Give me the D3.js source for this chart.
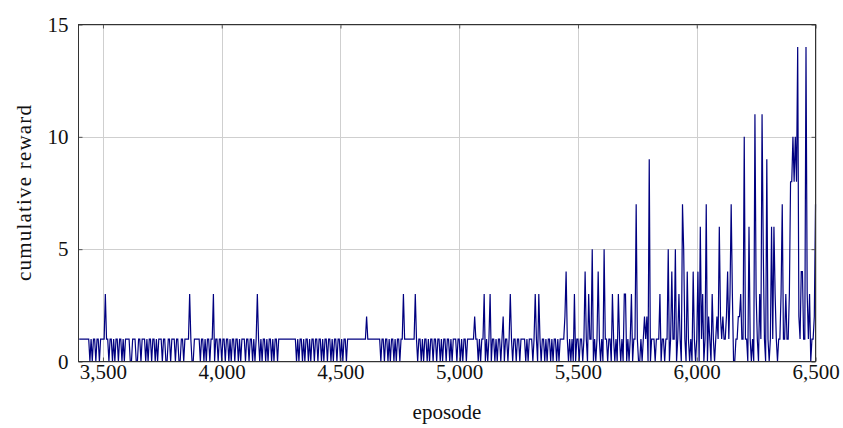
<!DOCTYPE html>
<html>
<head>
<meta charset="utf-8">
<script src="https://cdn.jsdelivr.net/npm/d3@7/dist/d3.min.js"></script>
<style>
  html, body { margin: 0; padding: 0; background: #fff; }
  svg { display: block; }
</style>
</head>
<body>
<svg id="chart" width="843" height="428"></svg>
<script>
// ---- data (one value every 5 episodes, 3400 .. 6500) ----
const episodeStart = 3400;
const episodeStep = 5;
const rewards = [
  /*3400*/ 1,1,1,1,1,1,1,1,1,0,1,0,1,1,0,1,1,0,1,1,
  /*3500*/ 1,1,3,1,1,0,1,1,0,1,0,1,1,0,1,1,0,1,0,1,
  /*3600*/ 1,1,1,0,0,1,1,1,0,0,1,1,0,1,1,1,0,1,0,1,
  /*3700*/ 1,0,1,1,0,1,0,1,1,1,0,1,1,0,0,1,1,0,1,1,
  /*3800*/ 1,0,1,1,0,0,1,1,0,1,1,1,1,3,1,0,0,1,1,1,
  /*3900*/ 1,1,0,1,1,0,1,0,1,1,0,1,1,3,0,1,1,0,1,1,
  /*4000*/ 0,1,1,0,1,1,0,1,0,1,1,0,1,1,0,1,0,1,1,1,
  /*4100*/ 0,1,1,0,1,1,0,1,0,1,3,1,0,1,0,1,1,0,1,0,
  /*4200*/ 1,1,0,1,0,1,1,0,1,1,1,1,1,1,1,1,1,1,1,1,
  /*4300*/ 1,1,1,0,1,0,1,1,0,1,0,1,1,0,1,0,1,1,0,1,
  /*4400*/ 1,0,1,1,0,1,0,1,1,0,1,1,0,1,0,1,1,0,1,1,
  /*4500*/ 0,1,0,1,1,0,1,1,1,1,1,1,1,1,1,1,1,1,1,1,
  /*4600*/ 1,1,2,1,1,1,1,1,1,1,1,1,1,1,0,1,1,0,1,1,
  /*4700*/ 0,1,0,1,1,0,1,0,1,1,0,1,1,3,1,1,1,1,1,1,
  /*4800*/ 1,1,1,3,1,0,1,1,0,1,0,1,1,0,1,0,1,1,0,1,
  /*4900*/ 1,0,1,1,0,1,0,1,1,0,1,1,0,1,0,1,1,1,0,1,
  /*5000*/ 1,0,1,0,1,1,0,1,1,1,1,1,1,2,1,1,0,1,0,1,
  /*5100*/ 1,3,0,1,0,1,3,0,1,1,0,1,0,1,1,0,1,2,0,1,
  /*5200*/ 1,0,1,3,1,0,1,1,0,1,1,0,1,1,1,1,0,1,0,1,
  /*5300*/ 1,1,0,1,3,1,0,3,1,0,1,1,0,1,0,1,1,0,1,0,
  /*5400*/ 1,1,0,1,0,1,1,1,1,2,4,1,0,1,0,1,0,3,0,1,
  /*5500*/ 1,0,1,1,0,1,4,1,0,3,1,1,5,0,1,0,1,4,1,0,
  /*5600*/ 1,0,5,1,1,0,1,1,0,3,1,0,1,0,3,1,0,1,0,3,
  /*5700*/ 3,0,1,0,1,3,0,1,1,7,1,0,0,1,0,1,2,1,2,0,
  /*5800*/ 9,0,1,1,1,0,1,1,1,3,0,1,1,0,1,1,5,0,1,4,
  /*5900*/ 1,1,5,0,1,3,1,0,7,5,1,0,4,1,0,1,0,4,1,0,
  /*6000*/ 1,4,0,6,1,3,0,1,7,0,2,1,0,3,1,0,1,2,1,6,
  /*6100*/ 2,1,2,1,1,2,4,1,3,7,3,0,0,1,1,2,2,3,1,1,
  /*6200*/ 10,1,1,0,6,1,0,1,0,11,3,1,0,3,1,11,5,1,0,9,
  /*6300*/ 1,0,1,6,1,6,3,1,0,1,1,3,7,1,1,3,1,1,3,8,
  /*6400*/ 8,10,8,10,8,14,2,1,4,4,1,1,14,3,1,3,0,1,1,2,
  /*6500*/ 7
];
const xTicks = [3500, 4000, 4500, 5000, 5500, 6000, 6500];
const yTicks = [0, 5, 10, 15];
const xLabel = "eposode";
const yLabel = "cumulative reward";

const episodes = rewards.map((_, i) => episodeStart + i * episodeStep);
const series = rewards.map((v, i) => ({ x: episodes[i], y: v }));

// ---- layout ----
const FONT = "'Liberation Serif', 'Times New Roman', 'DejaVu Serif', serif";
const FS = 21;
const svg = d3.select("#chart");
const pLeft = 78.5, pRight = 815.5, pTop = 24.5, pBottom = 361.5;

const x = d3.scaleLinear().domain([3397, 6500]).range([pLeft, pRight]);
const y = d3.scaleLinear().domain([0, 15]).range([pBottom, pTop]);

// grid
const grid = svg.append("g");
grid.selectAll(".vg").data(xTicks).join("line")
  .attr("x1", d => Math.round(x(d)) + 0.5).attr("x2", d => Math.round(x(d)) + 0.5)
  .attr("y1", pTop).attr("y2", pBottom)
  .attr("stroke", "#cfcfcf").attr("stroke-width", 1);
grid.selectAll(".hg").data(yTicks).join("line")
  .attr("x1", pLeft).attr("x2", pRight)
  .attr("y1", d => Math.round(y(d)) + 0.5).attr("y2", d => Math.round(y(d)) + 0.5)
  .attr("stroke", "#cfcfcf").attr("stroke-width", 1);

// line
const line = d3.line().x(d => x(d.x)).y(d => y(d.y));
svg.append("path").datum(series)
  .attr("d", line)
  .attr("fill", "none")
  .attr("stroke", "#000080")
  .attr("stroke-width", 1.2)
  .attr("stroke-linejoin", "miter");

// axes (ticks inside, pgfplots style)
const xAxis = d3.axisBottom(x).tickValues(xTicks).tickFormat(d3.format(",")).tickSizeInner(-4).tickSizeOuter(0).tickPadding(3);
const yAxis = d3.axisLeft(y).tickValues(yTicks).tickFormat(d3.format("d")).tickSizeInner(-4).tickSizeOuter(0).tickPadding(10);
const xTop = d3.axisTop(x).tickValues(xTicks).tickFormat("").tickSizeInner(-4).tickSizeOuter(0);
const yRight = d3.axisRight(y).tickValues(yTicks).tickFormat("").tickSizeInner(-4).tickSizeOuter(0);

function style(g) {
  g.select(".domain").remove();
  g.selectAll(".tick line").attr("stroke", "#555");
  g.selectAll(".tick text").style("font-size", FS + "px").style("fill", "#111")
    .style("font-family", FONT);
}
svg.append("g").attr("transform", `translate(0,${pBottom})`).call(xAxis).call(style);
svg.append("g").attr("transform", `translate(${pLeft},0)`).call(yAxis).call(style);
svg.append("g").attr("transform", `translate(0,${pTop})`).call(xTop).call(style);
svg.append("g").attr("transform", `translate(${pRight},0)`).call(yRight).call(style);

// frame
svg.append("rect")
  .attr("x", pLeft).attr("y", pTop)
  .attr("width", pRight - pLeft).attr("height", pBottom - pTop)
  .attr("fill", "none").attr("stroke", "#333").attr("stroke-width", 1);

// labels
svg.append("text")
  .attr("x", (pLeft + pRight) / 2).attr("y", 419)
  .attr("text-anchor", "middle")
  .style("font-size", FS + "px").style("font-family", FONT).style("fill", "#111")
  .text(xLabel);
svg.append("text")
  .attr("transform", `translate(31,${(pTop + pBottom) / 2}) rotate(-90)`)
  .attr("text-anchor", "middle")
  .attr("textLength", 176).attr("lengthAdjust", "spacing")
  .style("font-size", FS + "px").style("font-family", FONT).style("fill", "#111")
  .text(yLabel);
</script>
</body>
</html>
